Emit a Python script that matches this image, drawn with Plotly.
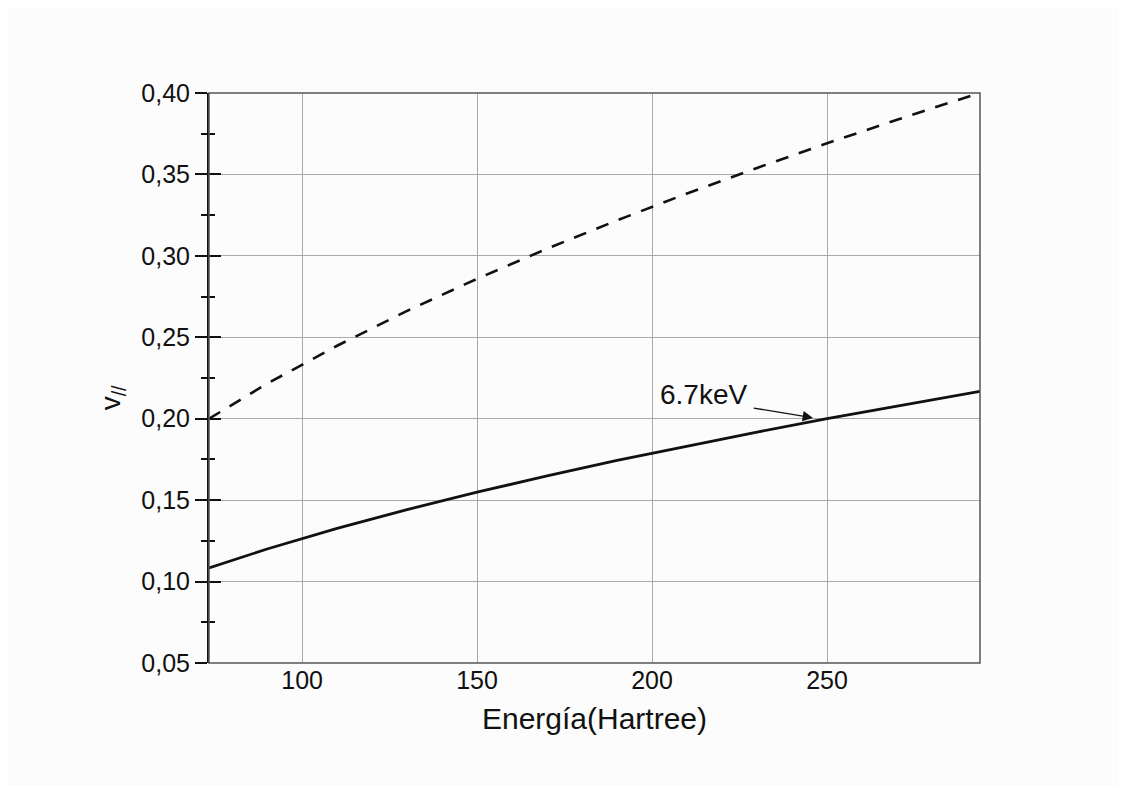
import plotly.graph_objects as go

# Data
energy = [73.4, 90, 110, 130, 150, 170, 190, 210, 230, 250, 270, 293.7]
v_solid = [0.1084, 0.1200, 0.1327, 0.1442, 0.1549, 0.1649, 0.1744, 0.1833, 0.1918, 0.2000, 0.2078, 0.2168]
v_dashed = [0.2000, 0.2215, 0.2448, 0.2662, 0.2859, 0.3044, 0.3218, 0.3383, 0.3540, 0.3691, 0.3836, 0.4001]
x_ticks = [100, 150, 200, 250]
y_ticks = [0.05, 0.10, 0.15, 0.20, 0.25, 0.30, 0.35, 0.40]

x_range = [73.4, 293.7]
y_range = [0.05, 0.40]
FONT = "Liberation Sans, Arial, sans-serif"

fig = go.Figure()
fig.add_trace(go.Scatter(x=energy, y=v_solid, mode="lines",
                         line=dict(color="#111111", width=2.8), showlegend=False))
fig.add_trace(go.Scatter(x=energy, y=v_dashed, mode="lines", yaxis="y2",
                         line=dict(color="#111111", width=2.6, dash="13px,11px"),
                         showlegend=False))

fig.update_layout(
    width=1127, height=786,
    margin=dict(l=201, r=155, t=85, b=131),
    paper_bgcolor="#fcfcfc", plot_bgcolor="#fcfcfc",
    separators=",.",
    font=dict(family=FONT, color="#111111"),
    xaxis=dict(range=x_range, tickvals=x_ticks, showgrid=True, gridcolor="#aaaaaa",
               gridwidth=1, zeroline=False, ticks="", showline=False,
               tickfont=dict(size=25),
               title=dict(text="Energía(Hartree)", font=dict(size=30), standoff=14)),
    yaxis=dict(range=y_range, tickvals=y_ticks, tickformat=".2f", showgrid=True,
               gridcolor="#aaaaaa", gridwidth=1, zeroline=False,
               showline=True, linecolor="#111111", linewidth=2,
               ticks="outside", ticklen=12, tickwidth=2, tickcolor="#111111",
               minor=dict(ticks="outside", ticklen=6, tickwidth=2, tickcolor="#111111",
                          dtick=0.025, tick0=0.05, showgrid=False),
               tickfont=dict(size=25)),
    yaxis2=dict(range=y_range, overlaying="y", side="left", tickvals=y_ticks,
                showticklabels=False, showgrid=False, zeroline=False, showline=False,
                ticks="inside", ticklen=12, tickwidth=2, tickcolor="#111111",
                minor=dict(ticks="inside", ticklen=6, tickwidth=2, tickcolor="#111111",
                           dtick=0.025, tick0=0.05, showgrid=False)),
    shapes=[dict(type="rect", xref="paper", yref="paper", x0=0, x1=1, y0=0, y1=1,
                 line=dict(color="#555555", width=1.5), layer="above")],
    annotations=[
        dict(x=246, y=0.2005, ax=228.6, ay=0.2067, xref="x", yref="y", axref="x", ayref="y",
             text="", showarrow=True, arrowhead=2, arrowsize=1.6, arrowwidth=1.3,
             arrowcolor="#111111"),
        dict(x=214.6, y=0.215, xref="x", yref="y", text="6.7keV", showarrow=False,
             font=dict(size=28, family=FONT)),
        dict(x=-0.124, y=0.465, xref="paper", yref="paper", text="v<sub>//</sub>",
             xanchor="center", yanchor="middle",
             textangle=-90, showarrow=False, font=dict(size=28, family=FONT)),
    ],
)

fig.write_html("out.html")
